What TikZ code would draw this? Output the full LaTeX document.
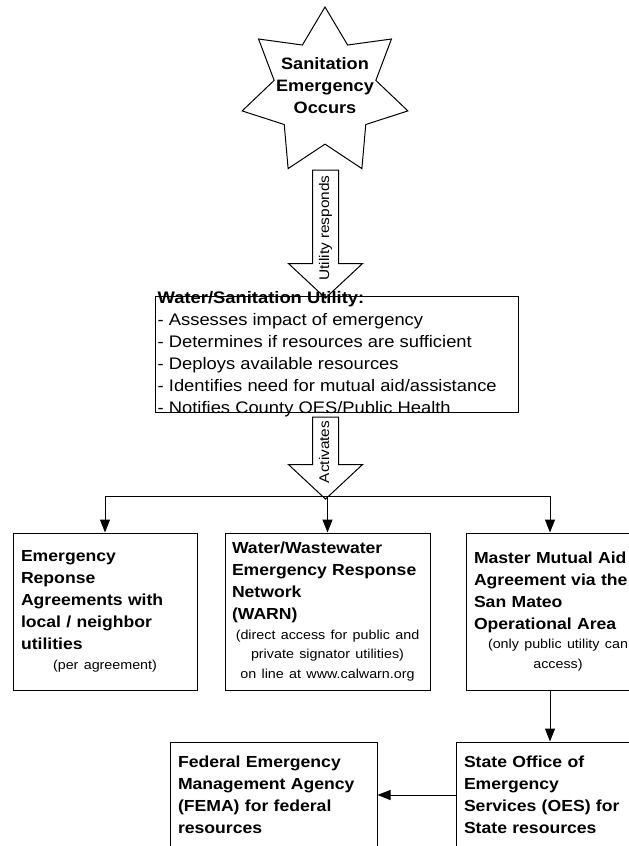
\documentclass[tikz,border=0pt]{standalone}
\usepackage{fontspec}
\setmainfont{Liberation Sans}[FakeStretch=1.1]
\usetikzlibrary{arrows.meta,shapes.geometric,shapes.arrows}

\newcommand{\smallnote}{\fontsize{13}{19.5}\selectfont\mdseries}

\tikzset{
  burst/.style={draw, line width=1pt, star, star points=7, star point ratio=1.63,
    minimum size=170pt, inner sep=0pt},
  hollow/.style={draw, line width=1pt, fill=white, single arrow, shape border rotate=180,
    rotate=90, single arrow head extend=24pt, single arrow tip angle=94,
    single arrow head indent=0pt, minimum width=73pt, inner xsep=0pt, inner ysep=6pt,
    text height=10pt, text depth=3pt, font=\fontsize{14}{16}\selectfont},
  agency/.style={draw, line width=1pt, inner xsep=8pt, inner ysep=0pt,
    font=\fontsize{16}{22}\selectfont\bfseries},
  link/.style={draw, line width=1pt, -{Triangle[width=10pt,length=13pt]}}
}

\begin{document}
\begin{tikzpicture}[x=1pt,y=-1pt]
  \useasboundingbox (0,0) rectangle (629,846);
  \clip (0,0) rectangle (629,846);

  % emergency and the utility
  \node[burst, label={[align=center, yshift=6pt, font=\fontsize{16.5}{22}\selectfont\bfseries]center:{Sanitation\\Emergency\\Occurs}}] (star) at (325,92) {};
  \node[hollow, minimum height=128pt] (resp) at (325.5,228) {Utility responds};
  \node[draw, line width=1pt, minimum width=363pt, minimum height=116pt, label distance=0pt,
    label={[anchor=west, align=left, inner xsep=3pt, font=\fontsize{16.7}{22}\selectfont]west:{\textbf{Water/Sanitation Utility:}\\- Assesses impact of emergency\\- Determines if resources are sufficient\\- Deploys available resources\\- Identifies need for mutual aid/assistance\\- Notifies County OES/Public Health}}] (util) at (336.5,354) {};
  \node[hollow, minimum height=82pt] (act) at (325.5,452) {Activates};

  % mutual aid options
  \node[agency, text width=168pt, minimum height=157pt] (local) at (105,611.5)
    {\raggedright Emergency\\Reponse\\Agreements with\\local / neighbor\\utilities\par
     {\centering\smallnote (per agreement)\par}};
  \node[agency, text width=191pt, minimum height=157pt, inner xsep=7pt] (warn) at (327.5,611.5)
    {\raggedright Water/Wastewater\\Emergency Response\\Network\\(WARN)\par
     {\centering\smallnote (direct access for public and\\private signator utilities)\\on line at www.calwarn.org\par}};
  \node[agency, text width=168pt, minimum height=157pt] (mutual) at (558,611.5)
    {\raggedright Master Mutual Aid\\Agreement via the\\San Mateo\\Operational Area\par
     {\centering\smallnote (only public utility can\\access)\par}};

  % state and federal
  \node[agency, text width=191pt, minimum height=106pt] (fema) at (273.5,795)
    {\raggedright Federal Emergency\\Management Agency\\(FEMA) for federal\\resources\par};
  \node[agency, text width=172pt, minimum height=106pt] (state) at (550,795)
    {\raggedright State Office of\\Emergency\\Services (OES) for\\State resources\par};

  \coordinate (split) at (325,496);
  \draw[line width=1pt] (local.north |- split) -- (state.north |- split);
  \draw[link] (local.north |- split) -- (local.north);
  \draw[link] (warn.north |- split) -- (warn.north);
  \draw[link] (state.north |- split) -- (mutual.north -| state.north);
  \draw[link] (mutual.south -| state.north) -- (state.north);
  \draw[link] (state.west) -- (fema.east);
\end{tikzpicture}
\end{document}
